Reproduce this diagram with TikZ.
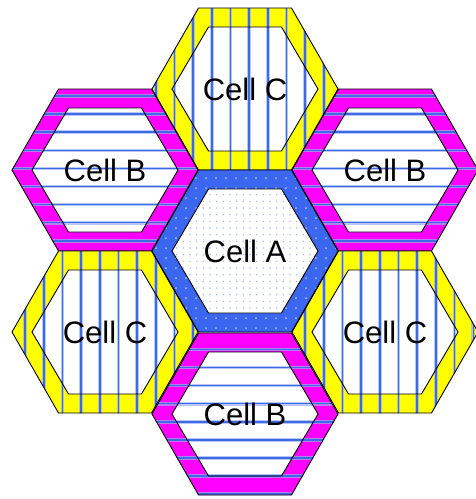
\documentclass[tikz,border=0pt]{standalone}
\usepackage{fontspec}
\setmainfont{Liberation Sans}
\definecolor{cyel}{RGB}{255,255,0}
\definecolor{cmag}{RGB}{255,0,255}
\definecolor{cring}{RGB}{58,102,240}
\definecolor{stripe}{RGB}{64,105,228}
\definecolor{halo}{RGB}{150,178,245}
\definecolor{dotin}{RGB}{165,188,235}
\definecolor{dotring}{RGB}{175,200,255}
\newcommand\hexp[4]{({#1-#3},#2) -- ({#1-#3/2},{#2-#4}) -- ({#1+#3/2},{#2-#4}) -- ({#1+#3},#2) -- ({#1+#3/2},{#2+#4}) -- ({#1-#3/2},{#2+#4}) -- cycle}
\tikzset{
  hexline/.style={draw=black, line width=0.9pt, line join=miter},
  lbl/.style={font=\fontsize{31}{36}\selectfont, text=black, inner sep=0pt},
  halostripe/.style={draw=halo, line width=3.6pt, opacity=0.7},
  corestripe/.style={draw=stripe, line width=1.5pt}
}
% vertical-striped yellow cell
\newcommand\cellV[4]{%
  \fill[cyel] \hexp{#1}{#2}{93}{81};
  \fill[white] \hexp{#1}{#2}{73}{62};
  \begin{scope}
    \clip \hexp{#1}{#2}{93}{81};
    \foreach \k in {0,...,25} {
      \draw[halostripe] ({6.5+18.67*\k},0) -- ({6.5+18.67*\k},499);
      \draw[corestripe] ({6.5+18.67*\k},0) -- ({6.5+18.67*\k},499);
    }
  \end{scope}
  \draw[hexline] \hexp{#1}{#2}{93}{81};
  \draw[hexline] \hexp{#1}{#2}{73}{62};
  \node[lbl] (#3) at (#1,#2) {#4};
}
% horizontal-striped magenta cell
\newcommand\cellH[4]{%
  \fill[cmag] \hexp{#1}{#2}{93}{81};
  \fill[white] \hexp{#1}{#2}{73}{62};
  \begin{scope}
    \clip \hexp{#1}{#2}{93}{81};
    \foreach \k in {-6,...,23} {
      \draw[halostripe] (0,{96+18.1*\k}) -- (476,{96+18.1*\k});
      \draw[corestripe] (0,{96+18.1*\k}) -- (476,{96+18.1*\k});
    }
  \end{scope}
  \draw[hexline] \hexp{#1}{#2}{93}{81};
  \draw[hexline] \hexp{#1}{#2}{73}{62};
  \node[lbl] (#3) at (#1,#2) {#4};
}
\begin{document}
\begin{tikzpicture}[x=1pt,y=-1pt]
\fill[white] (0,0) rectangle (476,499);
\useasboundingbox (0,0) rectangle (476,499);
\cellV{245}{89}{ctop}{Cell C}
\cellH{105}{170}{bleft}{Cell B}
\cellH{385}{170}{bright}{Cell B}
\cellV{105}{332}{cleft}{Cell C}
\cellV{385}{332}{cright}{Cell C}
\cellH{245}{414}{bbottom}{Cell B}
% centre cell A
\fill[cring] \hexp{245}{251}{93}{81};
\begin{scope}
  \clip \hexp{245}{251}{93}{81};
  \foreach \i in {0,...,20} {
    \foreach \j in {0,...,18} {
      \fill[dotring] ({146+10*\i},{168+10*\j}) circle (1pt);
    }
  }
\end{scope}
\fill[white] \hexp{245}{251}{73}{62};
\begin{scope}
  \clip \hexp{245}{251}{73}{62};
  \foreach \i in {0,...,23} {
    \foreach \j in {0,...,19} {
      \fill[dotin] ({170+6.67*\i},{188+6.67*\j}) circle (0.8pt);
    }
  }
\end{scope}
\draw[hexline] \hexp{245}{251}{93}{81};
\draw[hexline] \hexp{245}{251}{73}{62};
\node[lbl] (acell) at (245,251) {Cell A};
\end{tikzpicture}
\end{document}
